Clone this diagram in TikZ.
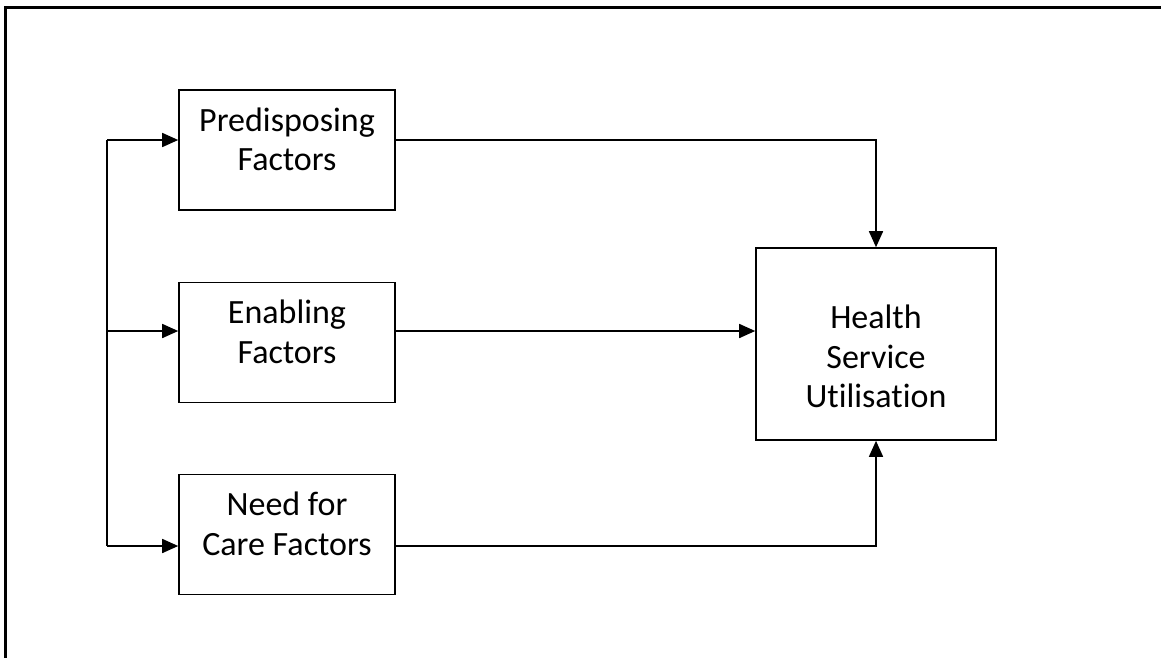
\documentclass[tikz,border=0pt]{standalone}
\usepackage{fontspec}
\setmainfont{Carlito}[Ligatures=NoCommon]
\usetikzlibrary{arrows.meta}

\begin{document}
\begin{tikzpicture}[x=1pt,y=-1pt,
		factor/.style={draw, line width=1.6pt, minimum width=216pt, minimum height=120pt, align=center, inner sep=0pt, text depth=22pt, font=\fontsize{34}{39.5}\selectfont},
		arr/.style={line width=1.6pt, -{Triangle[length=16pt,width=14pt]}},
		link/.style={line width=1.6pt}]
			\useasboundingbox (0,0) rectangle (1161,657);
			\clip (0,0) rectangle (1161,657);
			\draw[line width=3pt] (5,700) -- (5,7.5) -- (1200,7.5);
			\node[factor] (pre) at (287,150) {Predisposing\\Factors};
			\node[factor] (ena) at (287,342.5) {Enabling\\Factors};
			\node[factor] (need) at (287,534.5) {Need for\\Care Factors};
			\node[factor, minimum width=240pt, minimum height=192pt, text height=127pt, text depth=0pt] (hsu) at (876,344) {Health\\Service\\Utilisation};
			\coordinate (bustop) at (107,140);
			\coordinate (busmid) at (107,331);
			\coordinate (busbot) at (107,546);
			\draw[link] (bustop) -- (busbot);
			\draw[arr] (bustop) -- (bustop -| pre.west);
			\draw[arr] (busmid) -- (busmid -| ena.west);
			\draw[arr] (busbot) -- (busbot -| need.west);
			\draw[arr] (bustop -| pre.east) -| (hsu.north);
			\draw[arr] (busmid -| ena.east) -- (busmid -| hsu.west);
			\draw[arr] (busbot -| need.east) -| (hsu.south);
		\end{tikzpicture}
\end{document}
